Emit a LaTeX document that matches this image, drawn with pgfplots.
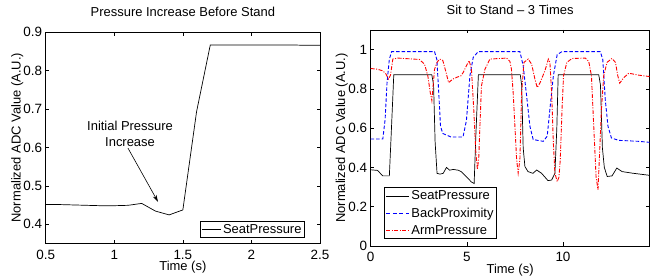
\documentclass[border=0pt]{standalone}
\usepackage{fontspec}
\setmainfont{Liberation Sans}
\usepackage{pgfplots}
\pgfplotsset{compat=1.18}
\usetikzlibrary{arrows.meta}

\pgfplotstableread{
x y
0.5 0.451
0.6 0.451
0.7 0.450
0.8 0.449
0.9 0.448
1.0 0.448
1.1 0.449
1.2 0.454
1.3 0.434
1.4 0.424
1.5 0.437
1.6 0.693
1.7 0.867
1.8 0.867
1.9 0.867
2.0 0.867
2.1 0.867
2.2 0.867
2.3 0.867
2.4 0.866
2.5 0.866
}\seatA

\pgfplotstableread{
x y
0 0.388
0.36 0.385
0.5 0.37
0.63 0.357
0.97 0.357
1.08 0.6
1.2 0.872
3.18 0.872
3.27 0.82
3.35 0.53
3.45 0.37
3.6 0.366
3.77 0.37
3.94 0.40
4.11 0.386
4.29 0.39
4.55 0.386
4.72 0.378
4.98 0.352
5.24 0.326
5.38 0.318
5.47 0.566
5.6 0.872
7.78 0.872
7.85 0.82
7.93 0.50
8.02 0.405
8.18 0.379
8.44 0.37
8.63 0.387
8.89 0.37
9.22 0.333
9.41 0.336
9.58 0.37
9.68 0.6
9.75 0.872
11.86 0.872
11.95 0.82
12.05 0.5
12.15 0.4
12.3 0.354
12.55 0.357
12.8 0.397
13.07 0.379
13.6 0.371
14.5 0.36
}\seatB

\pgfplotstableread{
x y
0 0.545
0.63 0.545
0.75 0.645
0.85 0.832
0.97 0.952
1.09 0.99
3.32 0.99
3.44 0.95
3.54 0.78
3.63 0.61
3.75 0.573
4.18 0.555
4.8 0.555
4.98 0.64
5.16 0.867
5.33 0.96
5.59 0.99
7.76 0.99
7.93 0.918
8.11 0.764
8.28 0.61
8.45 0.542
8.97 0.533
9.18 0.559
9.32 0.696
9.5 0.867
9.7 0.975
9.95 0.99
11.94 0.99
12.07 0.95
12.2 0.745
12.34 0.61
12.52 0.55
12.9 0.538
13.94 0.533
14.5 0.528
}\backB

\pgfplotstableread{
x y
0 0.904
0.36 0.9
0.63 0.892
0.8 0.875
0.92 0.85
1.03 0.87
1.15 0.952
1.4 0.957
2.53 0.95
2.8 0.926
2.97 0.867
3.1 0.78
3.18 0.74
3.32 0.9
3.45 0.935
3.58 0.952
3.75 0.945
3.92 0.884
4.05 0.832
4.27 0.85
4.5 0.86
4.7 0.867
4.81 0.884
4.98 0.918
5.12 0.944
5.24 0.9
5.36 0.696
5.47 0.473
5.55 0.39
5.62 0.45
5.68 0.61
5.76 0.815
5.94 0.9
6.2 0.952
7.07 0.957
7.24 0.94
7.32 0.9
7.41 0.78
7.5 0.61
7.59 0.44
7.67 0.371
7.76 0.44
7.85 0.78
7.97 0.935
8.19 0.952
8.37 0.926
8.54 0.85
8.66 0.807
8.8 0.83
9.06 0.892
9.24 0.952
9.32 0.935
9.41 0.78
9.5 0.524
9.58 0.371
9.7 0.328
9.79 0.35
9.86 0.44
9.95 0.696
10.03 0.867
10.2 0.935
10.47 0.955
11.16 0.957
11.34 0.94
11.48 0.867
11.6 0.61
11.72 0.354
11.82 0.286
11.89 0.44
12.0 0.696
12.12 0.867
12.29 0.935
12.55 0.955
12.73 0.935
12.85 0.867
12.95 0.829
13.16 0.857
13.42 0.88
13.94 0.87
14.5 0.863
}\armB

\pgfplotsset{
  myax/.style={
    scale only axis,
    anchor=south west,
    font=\fontsize{13}{15}\selectfont,
    tick label style={font=\fontsize{13.5}{15}\selectfont},
    xticklabel style={yshift=-3bp},
    /pgf/number format/assume math mode=true,
    tick align=inside,
    major tick length=3.5bp,
    axis line style={line width=0.8pt},
    every tick/.style={black, line width=0.5pt},
    legend cell align=left,
    legend style={draw=black, line width=0.8pt, fill=white,
      font=\fontsize{13}{15}\selectfont, inner sep=1.5bp, row sep=3.5bp,
      nodes={inner sep=1.5bp}},
  },
}

\begin{document}
\begin{tikzpicture}[x=1bp,y=1bp]
\begin{axis}[myax,
  at={(45.7bp,32.7bp)}, width=274.3bp, height=211bp,
  xmin=0.5, xmax=2.5, ymin=0.35, ymax=0.9,
  xtick={0.5,1,1.5,2,2.5},
  ytick={0.4,0.5,0.6,0.7,0.8,0.9},
  yticklabel style={/pgf/number format/fixed, /pgf/number format/precision=1, /pgf/number format/fixed zerofill},
  title={Pressure Increase Before Stand},
  title style={at={(axis description cs:0.5,1)}, anchor=base, yshift=9.5bp, inner sep=0pt},
  xlabel={Time (s)},
  xlabel style={at={(axis description cs:0.5,0)}, anchor=base, yshift=-27.5bp, inner sep=0pt},
  ylabel={Normalized ADC Value (A.U.)},
  ylabel style={at={(axis description cs:-0.0911,0.5)}, anchor=base, inner sep=0pt},
  legend style={at={(axis description cs:0.945,0.025)}, anchor=south east, row sep=0bp},
  legend image code/.code={\draw[#1] (0bp,0bp) -- (19bp,0bp);},
]
\addplot[black, line width=0.7pt] table[x=x,y=y] {\seatA};
\addlegendentry{SeatPressure}
\node[align=center, inner sep=0pt, font=\fontsize{13}{16}\selectfont] at (axis cs:1.115,0.636) {Initial Pressure\\Increase};
\draw[line width=0.6pt, -{Stealth[length=7bp,width=4bp]}] (axis cs:1.1,0.598) -- (axis cs:1.319,0.458);
\end{axis}

\begin{axis}[myax,
  at={(370.7bp,30bp)}, width=278.8bp, height=216bp,
  xmin=0, xmax=14.5, ymin=0, ymax=1.1,
  xtick={0,5,10},
  ytick={0,0.2,0.4,0.6,0.8,1},
  title={Sit to Stand -- 3 Times},
  title style={at={(axis description cs:0.5,1)}, anchor=base, yshift=9.3bp, inner sep=0pt},
  xlabel={Time (s)},
  xlabel style={at={(axis description cs:0.5,0)}, anchor=base, yshift=-27bp, inner sep=0pt},
  ylabel={Normalized ADC Value (A.U.)},
  ylabel style={at={(axis description cs:-0.0922,0.5)}, anchor=base, inner sep=0pt},
  legend style={at={(axis description cs:0.048,0.032)}, anchor=south west},
  legend image code/.code={\draw[#1] (0bp,0bp) -- (23bp,0bp);},
]
\addplot[black, line width=0.7pt] table[x=x,y=y] {\seatB};
\addlegendentry{SeatPressure}
\addplot[color=blue, line width=0.9pt, dash pattern=on 3.5bp off 2bp, legend image post style={draw=blue, line width=1pt, dash pattern=on 4bp off 2.5bp}] table[x=x,y=y] {\backB};
\addlegendentry{BackProximity}
\addplot[color=red, line width=0.9pt, dash pattern=on 4bp off 1.5bp on 1bp off 1.5bp] table[x=x,y=y] {\armB};
\addlegendentry{ArmPressure}
\end{axis}
\pgfresetboundingbox
\path[use as bounding box] (0,0) rectangle (651bp,276bp);
\end{tikzpicture}
\end{document}
